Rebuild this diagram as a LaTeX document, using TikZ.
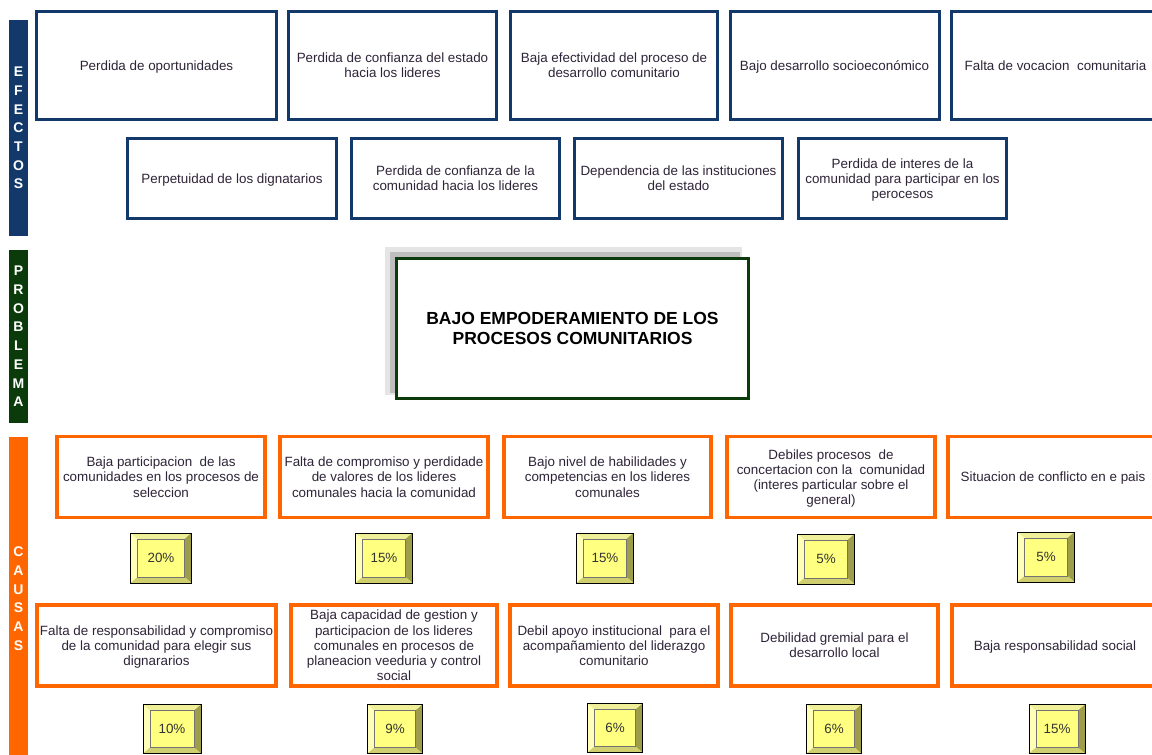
\documentclass[tikz,border=0pt]{standalone}
\usepackage{fontspec}
\setmainfont{Liberation Sans}
\usepackage{xcolor}

\definecolor{navy}{HTML}{12396A}
\definecolor{darkgreen}{HTML}{0B3B0B}
\definecolor{orangebar}{HTML}{FF6600}
\definecolor{txt}{HTML}{2E2438}
\definecolor{pctface}{HTML}{FFFF80}
\definecolor{pcttop}{HTML}{EFEF9A}
\definecolor{pctleft}{HTML}{FFFFB8}
\definecolor{pctright}{HTML}{9E9E4A}
\definecolor{pctbottom}{HTML}{CFCF70}

\begin{document}
\begin{tikzpicture}[x=1pt,y=-1pt,
	bar/.style={minimum width=19pt,inner sep=0pt,text=white,align=center,
		font=\fontsize{14}{18.7}\selectfont\bfseries,text depth=-5pt},
	effect/.style={draw=navy,line width=3pt,fill=white,inner sep=0pt,align=center,
		text=txt,font=\fontsize{13.4}{15.2}\selectfont,text depth=-7pt},
	cause/.style={effect,draw=orangebar,line width=3.6pt},
	problem/.style={draw=darkgreen,line width=3pt,fill=white,align=center,
		font=\fontsize{17.5}{20}\selectfont\bfseries},
	bevel/.style={draw=black,line width=0.8pt,fill=pctface,inner sep=0pt,
		text=black!80,font=\fontsize{13.4}{15}\selectfont,
		path picture={
			\coordinate (nw) at (path picture bounding box.north west);
			\coordinate (ne) at (path picture bounding box.north east);
			\coordinate (sw) at (path picture bounding box.south west);
			\coordinate (se) at (path picture bounding box.south east);
			\fill[pcttop] (nw) -- (ne) -- ([shift={(-7pt,-6pt)}]ne) -- ([shift={(7pt,-6pt)}]nw) -- cycle;
			\fill[pctleft] (nw) -- (sw) -- ([shift={(7pt,6pt)}]sw) -- ([shift={(7pt,-6pt)}]nw) -- cycle;
			\fill[pctright] (ne) -- (se) -- ([shift={(-7pt,6pt)}]se) -- ([shift={(-7pt,-6pt)}]ne) -- cycle;
			\fill[pctbottom] (sw) -- (se) -- ([shift={(-7pt,6pt)}]se) -- ([shift={(7pt,6pt)}]sw) -- cycle;
			\draw[black!55,line width=0.4pt] ([shift={(7pt,-6pt)}]nw) rectangle ([shift={(-7pt,6pt)}]se);
		}}]
	\useasboundingbox (0,0) rectangle (1152,755);

	% side bars
	\node[bar,fill=navy,minimum height=216pt] (efectos) at (18.5,128) {E\\F\\E\\C\\T\\O\\S};
	\node[bar,fill=darkgreen,minimum height=173pt] (problema) at (18.5,336.5) {P\\R\\O\\B\\L\\E\\M\\A};
	\node[bar,fill=orangebar,minimum height=323pt] (causas) at (18.5,598.5) {C\\A\\U\\S\\A\\S};

	% efectos
	\node[effect,minimum width=240pt,minimum height=108pt] (e1) at (156.5,65.5) {Perdida de oportunidades};
	\node[effect,minimum width=208pt,minimum height=108pt] (e2) at (392.5,65.5) {Perdida de confianza del estado\\hacia los lideres};
	\node[effect,minimum width=207pt,minimum height=108pt] (e3) at (614,65.5) {Baja efectividad del proceso de\\desarrollo comunitario};
	\node[effect,minimum width=209pt,minimum height=108pt] (e4) at (834.5,65.5) {Bajo desarrollo socioeconómico};
	\node[effect,minimum width=208pt,minimum height=108pt] (e5) at (1055.5,65.5) {Falta de vocacion~ comunitaria};
	\node[effect,minimum width=209pt,minimum height=80pt] (e6) at (232,178.5) {Perpetuidad de los dignatarios};
	\node[effect,minimum width=208pt,minimum height=80pt] (e7) at (455.5,178.5) {Perdida de confianza de la\\comunidad hacia los lideres};
	\node[effect,minimum width=208pt,minimum height=80pt] (e8) at (678.5,178.5) {Dependencia de las instituciones\\del estado};
	\node[effect,minimum width=208pt,minimum height=80pt] (e9) at (902.5,178.5) {Perdida de interes de la\\comunidad para participar en los\\perocesos};

	% problema
	\fill[gray!20] (385,247) rectangle (742,395);
	\fill[gray!50] (390,252) rectangle (740,393);
	\node[problem,minimum width=352pt,minimum height=140pt] (p) at (572.5,328.5) {BAJO EMPODERAMIENTO DE LOS\\PROCESOS COMUNITARIOS};

	% causas
	\node[cause,minimum width=208pt,minimum height=81pt] (c1) at (161,477) {Baja participacion~ de las\\comunidades en los procesos de\\seleccion};
	\node[cause,minimum width=208pt,minimum height=81pt] (c2) at (384,477) {Falta de compromiso y perdidade\\de valores de los lideres\\comunales hacia la comunidad};
	\node[cause,minimum width=207pt,minimum height=81pt] (c3) at (607.5,477) {Bajo nivel de habilidades y\\competencias en los lideres\\comunales};
	\node[cause,minimum width=208pt,minimum height=81pt] (c4) at (831,477) {Debiles procesos~ de\\concertacion con la~ comunidad\\(interes particular sobre el\\general)};
	\node[cause,minimum width=210pt,minimum height=81pt] (c5) at (1053,477) {Situacion de conflicto en e pais};
	\node[cause,minimum width=239pt,minimum height=81pt] (d1) at (156.5,645.5) {Falta de responsabilidad y compromiso\\de la comunidad para elegir sus\\dignararios};
	\node[cause,minimum width=206pt,minimum height=81pt] (d2) at (394,645.5) {Baja capacidad de gestion y\\participacion de los lideres\\comunales en procesos de\\planeacion veeduria y control\\social};
	\node[cause,minimum width=208pt,minimum height=81pt] (d3) at (614,645.5) {Debil apoyo institucional~ para el\\acompañamiento del liderazgo\\comunitario};
	\node[cause,minimum width=207pt,minimum height=81pt] (d4) at (834.5,645.5) {Debilidad gremial para el\\desarrollo local};
	\node[cause,minimum width=206pt,minimum height=81pt] (d5) at (1055,645.5) {Baja responsabilidad social};

	% porcentajes
	\node[bevel,minimum width=61pt,minimum height=50pt] (pc1) at (161,558) {20\%};
	\node[bevel,minimum width=57pt,minimum height=50pt] (pc2) at (384,558) {15\%};
	\node[bevel,minimum width=57pt,minimum height=50pt] (pc3) at (605,558) {15\%};
	\node[bevel,minimum width=57pt,minimum height=50pt] (pc4) at (826,559) {5\%};
	\node[bevel,minimum width=57pt,minimum height=50pt] (pc5) at (1046,557) {5\%};
	\node[bevel,minimum width=58pt,minimum height=49pt] (pd1) at (172,729) {10\%};
	\node[bevel,minimum width=55pt,minimum height=49pt] (pd2) at (395,729) {9\%};
	\node[bevel,minimum width=55pt,minimum height=49pt] (pd3) at (615,728) {6\%};
	\node[bevel,minimum width=55pt,minimum height=49pt] (pd4) at (834,729) {6\%};
	\node[bevel,minimum width=56pt,minimum height=49pt] (pd5) at (1057,729) {15\%};
\end{tikzpicture}
\end{document}
